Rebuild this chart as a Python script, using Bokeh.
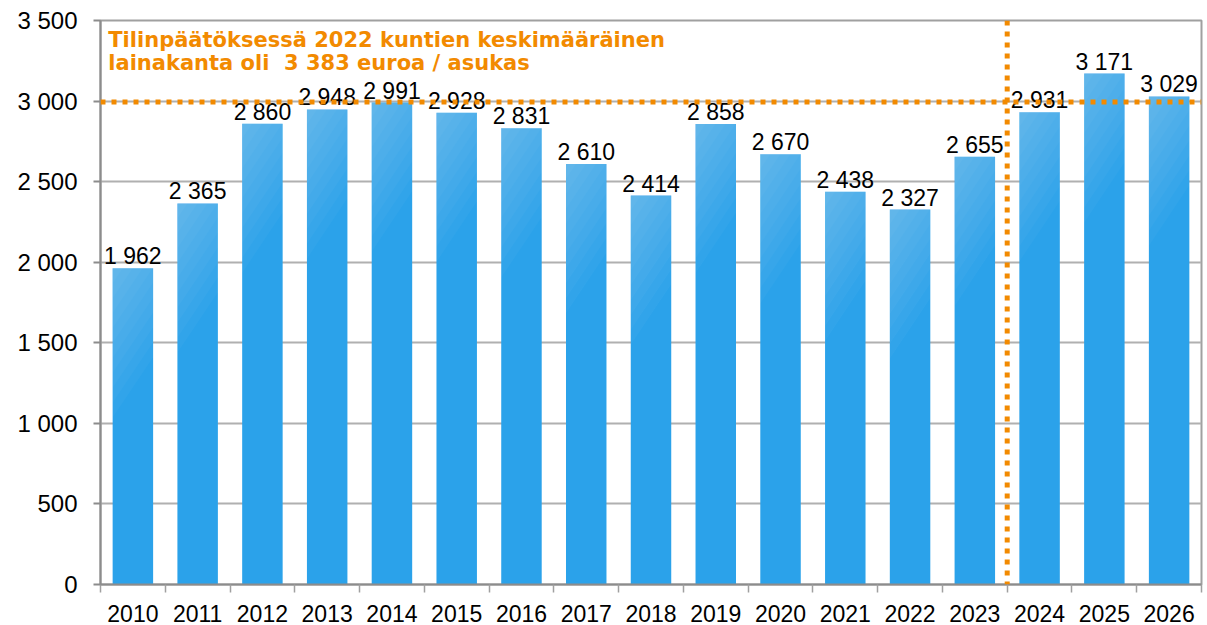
from bokeh.plotting import figure
from bokeh.models import (ColumnDataSource, FixedTicker, Span, Range1d, Label)
from bokeh.core.properties import value
from bokeh.embed import file_html
from bokeh.resources import INLINE

years = ["2010", "2011", "2012", "2013", "2014", "2015", "2016", "2017", "2018",
         "2019", "2020", "2021", "2022", "2023", "2024", "2025", "2026"]
values = [1962, 2365, 2860, 2948, 2991, 2928, 2831, 2610, 2414,
          2858, 2670, 2438, 2327, 2655, 2931, 3171, 3029]
y_ticks = [0, 500, 1000, 1500, 2000, 2500, 3000, 3500]
reference_level = 2995
forecast_boundary = 14
note_lines = ["Tilinpäätöksessä 2022 kuntien keskimääräinen",
              "lainakanta oli\u00a0 3 383 euroa / asukas"]

ORANGE = "#f28a00"
BLUE = "#2ba2ea"
FONT = "Liberation Sans"

W, H = 1207, 625
p = figure(width=W, height=H, output_backend="svg", toolbar_location=None,
           x_range=Range1d(0, len(years)), y_range=Range1d(0, 3500),
           min_border_left=100, min_border_right=6, min_border_top=20,
           min_border_bottom=41)
p.background_fill_color = "white"
p.border_fill_color = "white"
p.outline_line_color = "#a0a0a0"
p.outline_line_width = 2

xs = [i + 0.5 for i in range(len(years))]
bar_w = 0.625
src = ColumnDataSource(dict(x=xs, top=values,
                            label=[f"{v:,}".replace(",", " ") for v in values]))
p.vbar(x="x", top="top", width=bar_w, bottom=0, source=src, fill_color=BLUE, line_color=None)

# simulated diagonal gradient (lighter top-left)
px_x = 1101 / len(years)
px_y = 564 / 3500
gx, gy = [], []
bw_px = bar_w * px_x
k = 0.67
for x, v in zip(xs, values):
    L = x - bar_w / 2
    for c in range(10, 101, 10):
        pts = [(0, 0), (min(c, bw_px), 0)]
        if c > bw_px:
            pts.append((bw_px, (c - bw_px) / k))
        pts.append((0, c / k))
        gx.append([L + dx / px_x for dx, dy in pts])
        gy.append([v - dy / px_y for dx, dy in pts])
p.patches(gx, gy, fill_color="white", fill_alpha=0.03, line_color=None)

p.text(x="x", y="top", text="label", source=src, text_align="center",
       text_baseline="alphabetic", y_offset=-12, text_font=value(FONT),
       text_font_size="23px", text_color="black")

p.add_layout(Span(location=reference_level, dimension="width", line_color=ORANGE,
                  line_width=5, line_dash="5 6", level="overlay"))
p.add_layout(Span(location=forecast_boundary, dimension="height", line_color=ORANGE,
                  line_width=5, line_dash="5 6", level="overlay"))

p.add_layout(Label(x=0.12, y=3380, text=note_lines[0], text_color=ORANGE,
                   text_font="DejaVu Sans", text_font_style="bold", text_font_size="21px",
                   text_baseline="alphabetic"))
p.add_layout(Label(x=0.12, y=3235, text=note_lines[1], text_color=ORANGE,
                   text_font="DejaVu Sans", text_font_style="bold", text_font_size="21px",
                   text_baseline="alphabetic"))

# axes
p.xgrid.grid_line_color = None
p.ygrid.grid_line_color = "#b0b0b0"
p.ygrid.grid_line_width = 2
p.ygrid.ticker = FixedTicker(ticks=y_ticks)

p.yaxis.ticker = FixedTicker(ticks=y_ticks)
p.yaxis.major_label_overrides = {t: f"{t:,}".replace(",", " ") for t in y_ticks}
p.yaxis.axis_line_color = "#8c8c8c"
p.yaxis.axis_line_width = 2
p.yaxis.major_tick_line_color = "#8c8c8c"
p.yaxis.major_tick_line_width = 2
p.yaxis.major_tick_out = 7
p.yaxis.major_tick_in = 0
p.yaxis.minor_tick_line_color = None
p.yaxis.major_label_standoff = 16
p.yaxis.major_label_text_font = FONT
p.yaxis.major_label_text_font_size = "24px"
p.yaxis.major_label_text_color = "black"

p.xaxis.ticker = FixedTicker(ticks=xs, minor_ticks=list(range(len(years) + 1)))
p.xaxis.major_label_overrides = {x: y for x, y in zip(xs, years)}
p.xaxis.axis_line_color = "#8c8c8c"
p.xaxis.axis_line_width = 2
p.xaxis.major_tick_line_color = None
p.xaxis.major_tick_out = 8
p.xaxis.major_tick_in = 0
p.xaxis.minor_tick_line_color = "#a0a0a0"
p.xaxis.minor_tick_line_width = 1.5
p.xaxis.minor_tick_out = 8
p.xaxis.minor_tick_in = 0
p.xaxis.major_label_standoff = 12
p.xaxis.major_label_text_font = FONT
p.xaxis.major_label_text_font_size = "23px"
p.xaxis.major_label_text_color = "black"

open("out.html", "w").write(file_html(p, INLINE))
